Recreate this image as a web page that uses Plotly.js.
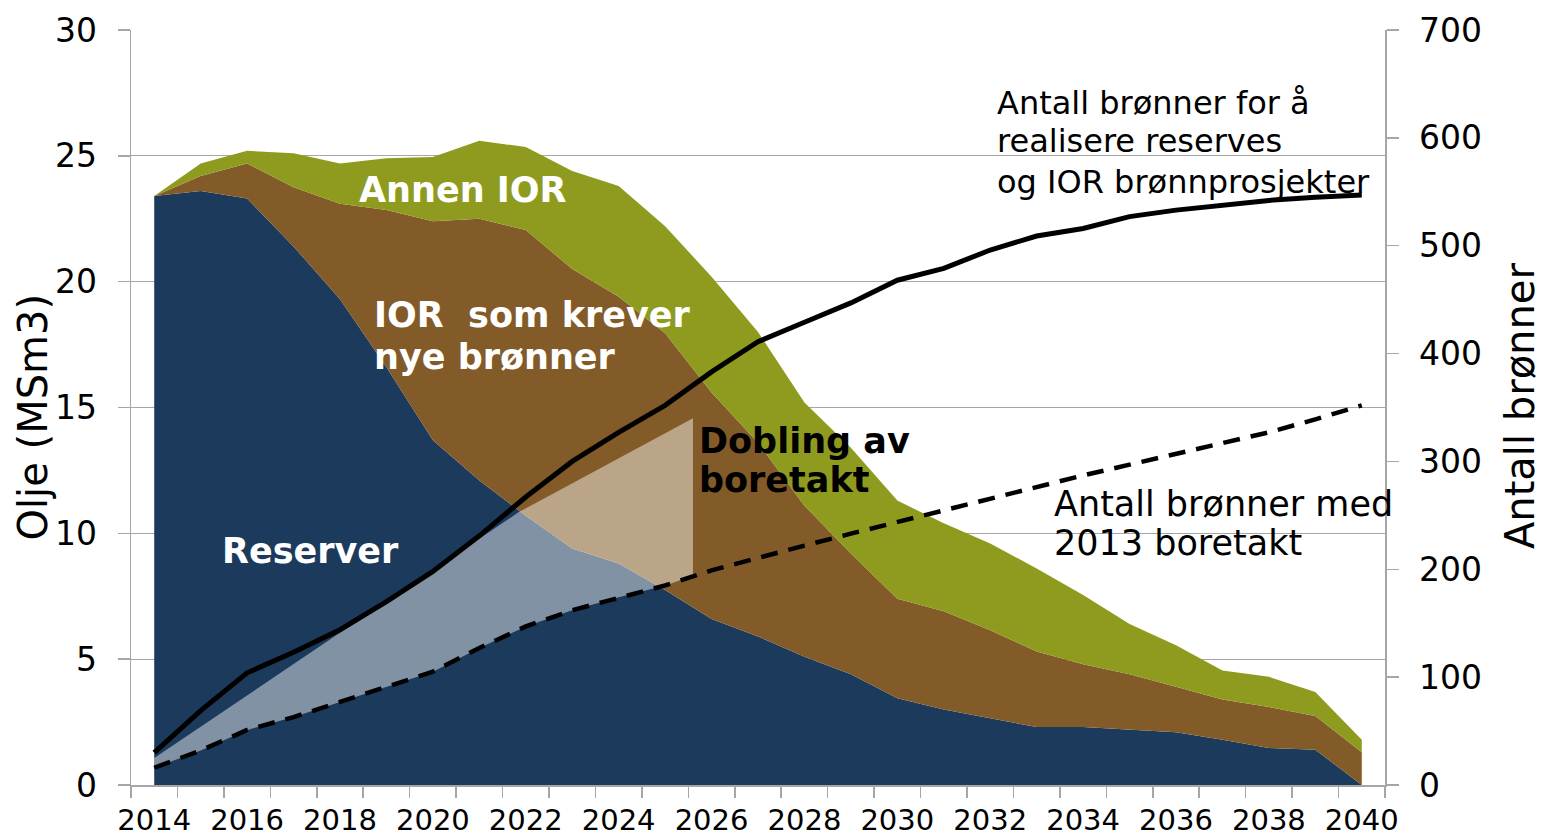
<!DOCTYPE html>
<html>
<head>
<meta charset="utf-8">
<script src="https://cdn.plot.ly/plotly-3.0.1.min.js"></script>
<style>html,body{margin:0;padding:0;background:#fff;}#chart{width:1542px;height:840px;}</style>
</head>
<body>
<div id="chart"></div>
<script>
// ---- Data ----
const years = [2014,2015,2016,2017,2018,2019,2020,2021,2022,2023,2024,2025,2026,2027,2028,2029,2030,2031,2032,2033,2034,2035,2036,2037,2038,2039,2040];
// Oil production, MSm3 (stacked components)
const reserver = [23.4,23.6,23.3,21.4,19.3,16.6,13.7,12.1,10.7,9.4,8.8,7.75,6.6,5.9,5.1,4.4,3.45,3.0,2.65,2.3,2.3,2.2,2.1,1.8,1.47,1.4,0];
const iorNyeBronner = [0,0.6,1.4,2.35,3.8,6.25,8.7,10.4,11.35,11.1,10.6,10.2,9.0,7.7,6.0,4.8,3.95,3.9,3.5,3.0,2.5,2.2,1.8,1.6,1.63,1.34,1.3];
const annenIor = [0,0.5,0.5,1.35,1.6,2.05,2.55,3.1,3.3,3.9,4.4,4.25,4.6,4.4,4.1,4.2,3.9,3.5,3.45,3.3,2.75,2.0,1.65,1.15,1.2,0.96,0.5];
// Number of wells (right axis)
const bronnerReserverIor = [30,69,104,123,144,170,198,231,267,300,327,352,383,411,429,447,468,479,496,509,516,527,533,538,542,545,547];
const bronner2013Boretakt = [16,32,51,63,77,91,105,127,147,162,174,185,199,211,222,233,244,255,266,276,287,297,307,317,327,339,352];
// "Dobling av boretakt" area (x in years, y in wells)
const doblingX = [2014,2015,2016,2017,2018,2019,2020,2021,2022,2023,2024,2025,2025.6,2025.6,2021.85,2014];
const doblingY = [16,32,51,63,77,91,105,127,147,162,174,185,194,340,253,25];
const xTickVals = [2014,2016,2018,2020,2022,2024,2026,2028,2030,2032,2034,2036,2038,2040];

const navy = '#1b3a5c', brown = '#835b28', olive = '#8f9b1f';
const gridC = '#a6a6a6';
const FONT = 'DejaVu Sans, Verdana, sans-serif';

const traces = [
  {x: years, y: reserver, type:'scatter', mode:'lines', stackgroup:'oil', line:{width:0, color:navy}, fillcolor:navy, hoverinfo:'skip', name:'Reserver'},
  {x: years, y: iorNyeBronner, type:'scatter', mode:'lines', stackgroup:'oil', line:{width:0, color:brown}, fillcolor:brown, hoverinfo:'skip', name:'IOR som krever nye brønner'},
  {x: years, y: annenIor, type:'scatter', mode:'lines', stackgroup:'oil', line:{width:0, color:olive}, fillcolor:olive, hoverinfo:'skip', name:'Annen IOR'},
  {x: doblingX, y: doblingY, yaxis:'y2', type:'scatter', mode:'lines', fill:'toself', fillcolor:'rgba(255,255,255,0.45)', line:{width:0, color:'rgba(0,0,0,0)'}, hoverinfo:'skip', name:'Dobling av boretakt'},
  {x: years, y: bronnerReserverIor, yaxis:'y2', type:'scatter', mode:'lines', line:{color:'#000', width:5}, hoverinfo:'skip', name:'Antall brønner'},
  {x: years, y: bronner2013Boretakt, yaxis:'y2', type:'scatter', mode:'lines', line:{color:'#000', width:4.5, dash:'17px,11px'}, hoverinfo:'skip', name:'Antall brønner 2013'}
];

function ann(text, x, y, size, color, bold) {
  return {text: bold ? '<b>'+text+'</b>' : text, x:x, y:y, xref:'x', yref:'y', xanchor:'left', yanchor:'middle',
          showarrow:false, font:{family:FONT, size:size, color:color}};
}

const layout = {
  width:1542, height:840,
  margin:{l:131, r:157, t:30, b:55, pad:0},
  paper_bgcolor:'#fff', plot_bgcolor:'#fff',
  showlegend:false,
  xaxis:{
    range:[2013.5, 2040.5], tickmode:'array', tickvals:xTickVals, ticks:'',
    showgrid:false, zeroline:false, showline:true, linecolor:gridC, linewidth:1.5,
    tickfont:{family:FONT, size:29, color:'#000'}, ticklabelstandoff:9,
    minor:{tickmode:'linear', tick0:2013.5, dtick:1, ticks:'outside', ticklen:11, tickcolor:gridC, tickwidth:1.5, showgrid:false}
  },
  yaxis:{
    range:[0,30], tickmode:'array', tickvals:[0,5,10,15,20,25,30],
    showgrid:true, gridcolor:gridC, gridwidth:1.3, zeroline:false,
    showline:true, linecolor:gridC, linewidth:1.5,
    ticks:'outside', ticklen:12, tickcolor:gridC, tickwidth:1.5,
    tickfont:{family:FONT, size:33, color:'#000'}, ticklabelstandoff:14
  },
  yaxis2:{
    overlaying:'y', side:'right', range:[0,700], tickmode:'array', tickvals:[0,100,200,300,400,500,600,700],
    showgrid:false, zeroline:false, showline:true, linecolor:gridC, linewidth:1.5,
    ticks:'outside', ticklen:12, tickcolor:gridC, tickwidth:1.5,
    tickfont:{family:FONT, size:33, color:'#000'}, ticklabelstandoff:14
  },
  annotations:[
    ann('Annen IOR', 2018.37, 23.64, 35, '#fff', true),
    ann('IOR&nbsp;&nbsp;som krever', 2018.69, 18.67, 35, '#fff', true),
    ann('nye brønner', 2018.69, 17.0, 35, '#fff', true),
    ann('Reserver', 2015.42, 9.3, 35, '#fff', true),
    ann('Dobling av', 2025.69, 13.67, 35, '#000', true),
    ann('boretakt', 2025.69, 12.12, 35, '#000', true),
    ann('Antall brønner for å', 2032.11, 27.1, 32, '#000', false),
    ann('realisere reserves', 2032.11, 25.59, 32, '#000', false),
    ann('og IOR brønnprosjekter', 2032.11, 23.96, 32, '#000', false),
    ann('Antall brønner med', 2033.34, 11.16, 35, '#000', false),
    ann('2013 boretakt', 2033.34, 9.61, 35, '#000', false),
    {text:'Olje (MSm3)', xref:'paper', yref:'paper', x:-0.078, y:0.487, xanchor:'center', yanchor:'middle', textangle:-90,
     showarrow:false, font:{family:FONT, size:40, color:'#000'}},
    {text:'Antall brønner', xref:'paper', yref:'paper', x:1.1077, y:0.502, xanchor:'center', yanchor:'middle', textangle:-90,
     showarrow:false, font:{family:FONT, size:40, color:'#000'}}
  ]
};

Plotly.newPlot('chart', traces, layout, {displayModeBar:false, staticPlot:true});
</script>
</body>
</html>
